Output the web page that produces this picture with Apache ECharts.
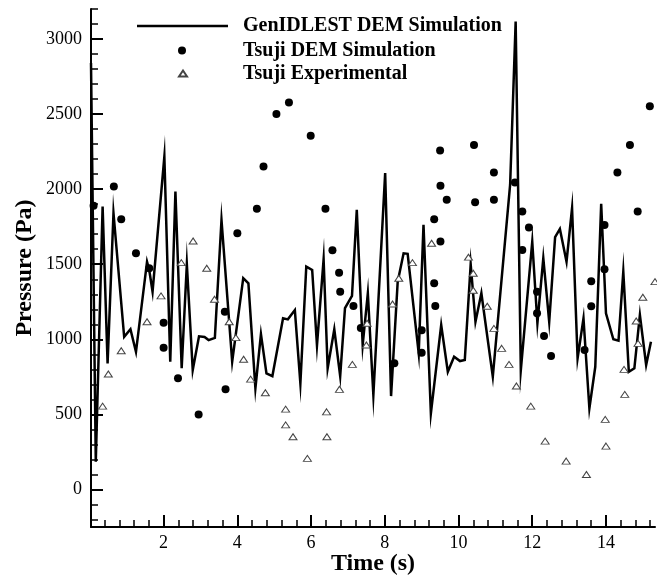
<!DOCTYPE html>
<html>
<head>
<meta charset="utf-8">
<script src="https://cdn.jsdelivr.net/npm/echarts@6/dist/echarts.min.js"></script>
<style>html,body{margin:0;padding:0;background:#fff;}#c{width:657px;height:579px;}</style>
</head>
<body>
<div id="c"></div>
<script>
const lineTime = [0.03,0.16,0.345,0.48,0.64,0.93,1.10,1.25,1.55,1.61,1.70,2.02,2.18,2.32,2.49,2.63,2.79,2.96,3.11,3.22,3.39,3.57,3.86,4.16,4.30,4.49,4.64,4.79,4.95,5.24,5.37,5.56,5.71,5.87,6.03,6.16,6.34,6.45,6.63,6.79,6.92,7.11,7.24,7.40,7.54,7.69,8.01,8.17,8.35,8.51,8.62,8.92,9.05,9.25,9.53,9.71,9.88,10.04,10.17,10.33,10.46,10.62,10.93,11.40,11.55,11.69,12.00,12.14,12.30,12.46,12.62,12.75,12.93,13.08,13.23,13.39,13.55,13.71,13.87,14.00,14.20,14.34,14.47,14.62,14.77,14.92,15.09,15.22];
const linePressure = [2840,184,1884,840,1840,1017,1067,917,1517,1462,1317,2217,851,1984,807,1500,795,1020,1015,995,1010,1795,851,1407,1373,673,1035,773,755,1140,1133,1195,707,1484,1462,960,1533,807,1067,755,1207,1289,1862,962,1307,629,2107,622,1384,1573,1569,907,1762,507,1095,784,884,855,862,1500,1117,1307,751,2030,3117,795,1650,1107,1540,1117,1680,1735,1517,1873,873,1140,540,817,1902,1173,1000,991,1451,784,807,1162,829,984];

const demTime = [0.10,0.65,0.85,1.25,1.61,2.00,2.00,2.39,2.95,3.66,3.68,4.00,4.53,4.71,5.06,5.40,5.99,6.39,6.58,6.76,6.79,7.15,7.35,8.26,9.00,9.00,9.34,9.34,9.37,9.50,9.51,9.51,9.68,10.42,10.45,10.96,10.96,11.53,11.73,11.91,11.73,12.13,12.13,12.32,12.51,13.42,13.60,13.60,13.96,13.96,14.31,14.65,14.86,15.19];
const demPressure = [1890,2017,1800,1573,1473,1111,944,740,500,1184,667,1707,1869,2151,2500,2577,2355,1869,1593,1444,1317,1222,1075,840,1060,911,1800,1373,1222,2257,2022,1651,1929,2295,1913,2111,1929,2044,1851,1744,1595,1317,1173,1022,889,929,1387,1220,1762,1467,2111,2295,1851,2553];

const expTime = [0.345,0.50,0.85,1.55,1.93,2.48,2.80,3.17,3.38,3.78,3.96,4.17,4.36,4.76,5.31,5.31,5.51,5.90,6.42,6.43,6.77,7.12,7.50,7.52,8.21,8.38,8.75,9.27,10.27,10.40,10.40,10.78,10.96,11.17,11.37,11.57,11.96,12.35,12.92,13.47,13.98,14.00,14.49,14.51,14.82,14.87,15.00,15.33];
const expPressure = [555,769,924,1117,1289,1511,1655,1473,1267,1117,1011,867,735,644,535,430,351,207,517,351,667,833,962,1107,1235,1407,1511,1640,1547,1440,1327,1220,1073,940,833,689,555,322,189,100,467,289,800,633,1122,973,1280,1384];

const xTickValues = [2,4,6,8,10,12,14];
const xMinorTickValues = [0.4,0.8,1.2,1.6,2.4,2.8,3.2,3.6,4.4,4.8,5.2,5.6,6.4,6.8,7.2,7.6,8.4,8.8,9.2,9.6,10.4,10.8,11.2,11.6,12.4,12.8,13.2,13.6,14.4,14.8,15.2];
const yTickValues = [0,500,1000,1500,2000,2500,3000];
const yMinorTickValues = [-200,-100,100,200,300,400,600,700,800,900,1100,1200,1300,1400,1600,1700,1800,1900,2100,2200,2300,2400,2600,2700,2800,2900,3100,3200];

const seriesNames = ['GenIDLEST DEM Simulation','Tsuji DEM Simulation','Tsuji Experimental'];

const zip = (a, b) => a.map((v, i) => [v, b[i]]);
const SERIF = '"Liberation Serif", "DejaVu Serif", serif';

const chart = echarts.init(document.getElementById('c'), null, {renderer: 'canvas'});

const xRange = {min: 0.03, max: 15.33};
const yRange = {min: -250, max: 3200};

const legendText = (padLeft) => ({fontFamily: SERIF, fontWeight: 'bold', fontSize: 20, color: '#000', lineHeight: 20, padding: [0,0,0,padLeft]});

chart.setOption({
  animation: false,
  backgroundColor: '#fff',
  grid: {left: 91, right: 2, top: 9, bottom: 52, containLabel: false, outerBoundsMode: 'none'},
  legend: [
    {data: [{name: seriesNames[0], icon: 'rect'}], left: 137, top: 16, padding: 0, orient: 'vertical',
     itemWidth: 91, itemHeight: 2.5, selectedMode: false, textStyle: legendText(10)},
    {data: [{name: seriesNames[1], icon: 'circle'}], left: 178, top: 40.5, padding: 0, orient: 'vertical',
     itemWidth: 8, itemHeight: 8, selectedMode: false, textStyle: legendText(52)},
    {data: [{name: seriesNames[2], icon: 'triangle'}], left: 178, top: 63.5, padding: 0, orient: 'vertical',
     itemWidth: 8, itemHeight: 6, selectedMode: false, textStyle: legendText(51)}
  ],
  xAxis: [
    {
      type: 'value', position: 'bottom', min: xRange.min, max: xRange.max,
      name: 'Time (s)', nameLocation: 'middle', nameGap: 25, nameMoveOverlap: false,
      nameTextStyle: {fontFamily: SERIF, fontWeight: 'bold', fontSize: 24, color: '#000'},
      axisLine: {show: true, onZero: false, lineStyle: {color: '#000', width: 2}},
      axisTick: {show: true, inside: true, length: 12, customValues: xTickValues, lineStyle: {color: '#000', width: 2}},
      axisLabel: {show: true, customValues: xTickValues, margin: 7, fontFamily: SERIF, fontSize: 18, color: '#000', formatter: v => String(v)},
      splitLine: {show: false}
    },
    {
      type: 'value', position: 'bottom', min: xRange.min, max: xRange.max,
      axisLine: {show: false, onZero: false},
      axisTick: {show: true, inside: true, length: 7, customValues: xMinorTickValues, lineStyle: {color: '#000', width: 1.5}},
      axisLabel: {show: false},
      splitLine: {show: false}
    }
  ],
  yAxis: [
    {
      type: 'value', position: 'left', min: yRange.min, max: yRange.max,
      name: 'Pressure (Pa)', nameLocation: 'middle', nameGap: 54, nameRotate: 90, nameMoveOverlap: false,
      nameTextStyle: {fontFamily: SERIF, fontWeight: 'bold', fontSize: 24, color: '#000'},
      axisLine: {show: true, onZero: false, lineStyle: {color: '#000', width: 2}},
      axisTick: {show: true, inside: true, length: 12, customValues: yTickValues, lineStyle: {color: '#000', width: 2}},
      axisLabel: {show: true, customValues: yTickValues, margin: 9, fontFamily: SERIF, fontSize: 18, color: '#000', formatter: v => String(v)},
      splitLine: {show: false}
    },
    {
      type: 'value', position: 'left', min: yRange.min, max: yRange.max,
      axisLine: {show: false, onZero: false},
      axisTick: {show: true, inside: true, length: 7, customValues: yMinorTickValues, lineStyle: {color: '#000', width: 1.5}},
      axisLabel: {show: false},
      splitLine: {show: false}
    }
  ],
  series: [
    {
      name: seriesNames[0], type: 'line', xAxisIndex: 0, yAxisIndex: 0,
      data: zip(lineTime, linePressure), symbol: 'none', showSymbol: false,
      lineStyle: {color: '#000', width: 2.5, join: 'miter', miterLimit: 20},
      itemStyle: {color: '#000'}, z: 2
    },
    {
      name: seriesNames[1], type: 'scatter', xAxisIndex: 0, yAxisIndex: 0,
      data: zip(demTime, demPressure), symbol: 'circle', symbolSize: 8,
      itemStyle: {color: '#000', opacity: 1}, z: 3
    },
    {
      name: seriesNames[2], type: 'scatter', xAxisIndex: 0, yAxisIndex: 0,
      data: zip(expTime, expPressure), symbol: 'triangle', symbolSize: [8, 6],
      itemStyle: {color: '#fff', borderColor: '#444', borderWidth: 1, opacity: 1}, z: 4
    }
  ]
});
</script>
</body>
</html>
